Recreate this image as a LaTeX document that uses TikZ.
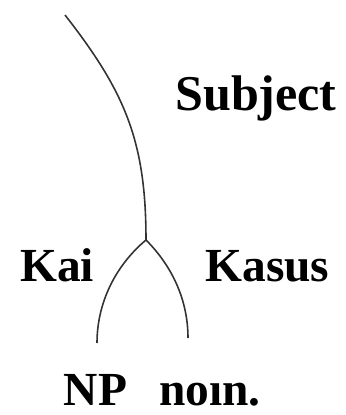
\documentclass[tikz,border=0pt]{standalone}
\usepackage{fontspec}
\setmainfont{Liberation Serif}
\usetikzlibrary{positioning}
\tikzset{
  branch/.style = {line width=0.9pt, black!80},
  lbl/.style    = {font=\fontsize{27}{27}\selectfont\bfseries, inner sep=0pt, anchor=base},
}
\begin{document}
\begin{tikzpicture}[x=1cm,y=1cm]
  \useasboundingbox (0,0) rectangle (6.92,8.30);
  % tree points
  \coordinate (root) at (1.30,8.00);
  \coordinate (fork) at (2.92,3.50);
  \coordinate (npend) at (1.94,1.44);
  \coordinate (nomend) at (3.76,1.54);
  % branches
  \draw[branch] (root) to[out=-52, in=90, looseness=1.05] (fork);
  \draw[branch] (fork) to[out=-140, in=90, looseness=0.9] (npend);
  \draw[branch] (fork) to[out=-45, in=90, looseness=0.9] (nomend);
  % labels
  \node[lbl, font=\fontsize{28.5}{28.5}\selectfont\bfseries] (subj) at (5.12,6.10) {Subject};
  \node[lbl] (kai) at (1.14,2.66) {Kai};
  \node[lbl] (kasus) at (5.35,2.66) {Kasus};
  \node[lbl] (np) at (1.91,0.20) {NP};
  \node[lbl] (nom) at (4.20,0.20) {no\i n.};
\end{tikzpicture}
\end{document}
